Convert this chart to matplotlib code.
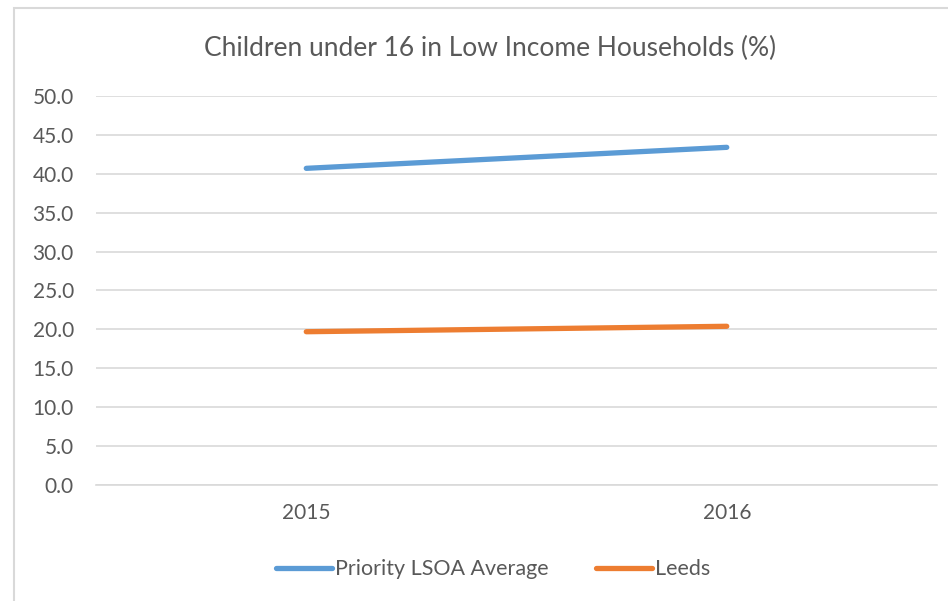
import matplotlib.pyplot as plt
from matplotlib.patches import Rectangle

plt.rcParams['font.family'] = ['Lato', 'DejaVu Sans']

years = ['2015', '2016']
priority_lsoa = [40.7, 43.4]
leeds = [19.7, 20.4]

TEXT = '#595959'
GRID = '#d9d9d9'

fig = plt.figure(figsize=(9.48, 6.01), dpi=100)
ax = fig.add_axes([0.1013, 0.193, 0.8871, 0.6473])

x = range(len(years))
ax.plot(x, priority_lsoa, color='#5b9bd5', lw=3.8, solid_capstyle='round',
        label='Priority LSOA Average')
ax.plot(x, leeds, color='#ed7d31', lw=3.8, solid_capstyle='round',
        label='Leeds')

ax.set_xlim(-0.5, 1.5)
ax.set_ylim(0, 50)
ax.set_yticks([i * 5 for i in range(11)])
ax.set_yticklabels(['%.1f' % (i * 5) for i in range(11)])
ax.set_xticks(list(x))
ax.set_xticklabels(years)
ax.grid(axis='y', color=GRID, lw=1.2)
ax.set_axisbelow(True)
for s in ['top', 'right', 'left']:
    ax.spines[s].set_visible(False)
ax.spines['bottom'].set_color(GRID)
ax.spines['bottom'].set_linewidth(1.2)
ax.tick_params(axis='both', length=0, labelsize=15, colors=TEXT)
ax.tick_params(axis='y', pad=16)
ax.tick_params(axis='x', pad=13)

fig.text(0.517, 0.92, 'Children under 16 in Low Income Households (%)',
         ha='center', va='center', fontsize=19, color=TEXT)

leg = fig.legend(loc='center', bbox_to_anchor=(0.52, 0.053), ncol=2, frameon=False,
                 fontsize=15.5, handlelength=2.6, handletextpad=0.15, columnspacing=2.2)
for t in leg.get_texts():
    t.set_color(TEXT)

# chart border
fig.patches.append(Rectangle((14 / 948, -0.1), 1.2, 1 - 8 / 601 + 0.1,
                             transform=fig.transFigure, fill=False,
                             edgecolor=GRID, lw=1.5))

fig.savefig('out.png', dpi=100)
